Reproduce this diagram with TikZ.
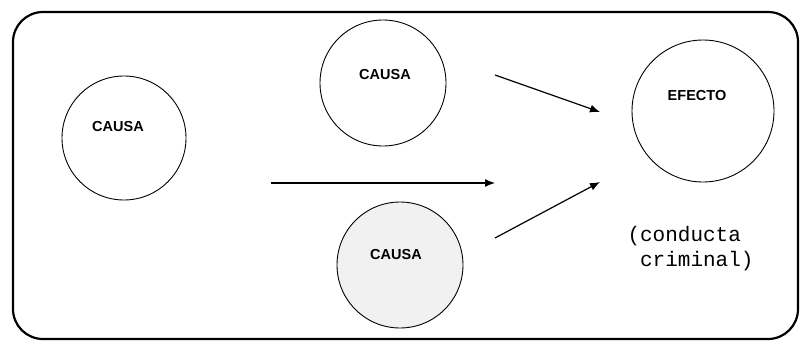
\documentclass[tikz,border=0pt]{standalone}
\usepackage{fontspec}
\setmainfont{Liberation Sans}
\setmonofont{Liberation Mono}
\usepackage{tikz}
\usetikzlibrary{arrows.meta}

\begin{document}
\begin{tikzpicture}[x=1pt,y=-1pt,
    factor/.style={circle,draw,line width=0.9pt,inner sep=0pt},
    lbl/.style={font=\bfseries\fontsize{14.5}{16}\selectfont},
    flow/.style={line width=1.2pt,-{Latex[length=10pt,width=8pt]}}]
    \useasboundingbox (0,0) rectangle (801,343);
    % outer frame
    \draw[line width=2.2pt,rounded corners=30pt] (13,12) rectangle (798,339);
    % causes and effect
    \node[factor,minimum size=124pt] (causaA) at (124,138) {};
    \node[factor,minimum size=126pt] (causaB) at (383,83) {};
    \node[factor,minimum size=126pt,fill=gray!11] (causaC) at (400,265) {};
    \node[factor,minimum size=142pt] (efecto) at (703,111) {};
    \node[lbl] (tA) at (118,127) {CAUSA};
    \node[lbl] (tB) at (385,75) {CAUSA};
    \node[lbl] (tC) at (396,255) {CAUSA};
    \node[lbl] (tE) at (697,96) {EFECTO};
    \node[font=\ttfamily\fontsize{21}{25}\selectfont,align=left,anchor=north west]
      (nota) at (624,223) {(conducta\\\ criminal)};
    % arrows
    \coordinate (b1) at (495,75);  \coordinate (b2) at (600,112);
    \coordinate (h1) at (271,183); \coordinate (h2) at (495,183);
    \coordinate (c1) at (495,238); \coordinate (c2) at (600,182);
    \draw[flow] (b1) -- (b2);
    \draw[flow] (h1) -- (h2);
    \draw[flow] (c1) -- (c2);
\end{tikzpicture}
\end{document}
